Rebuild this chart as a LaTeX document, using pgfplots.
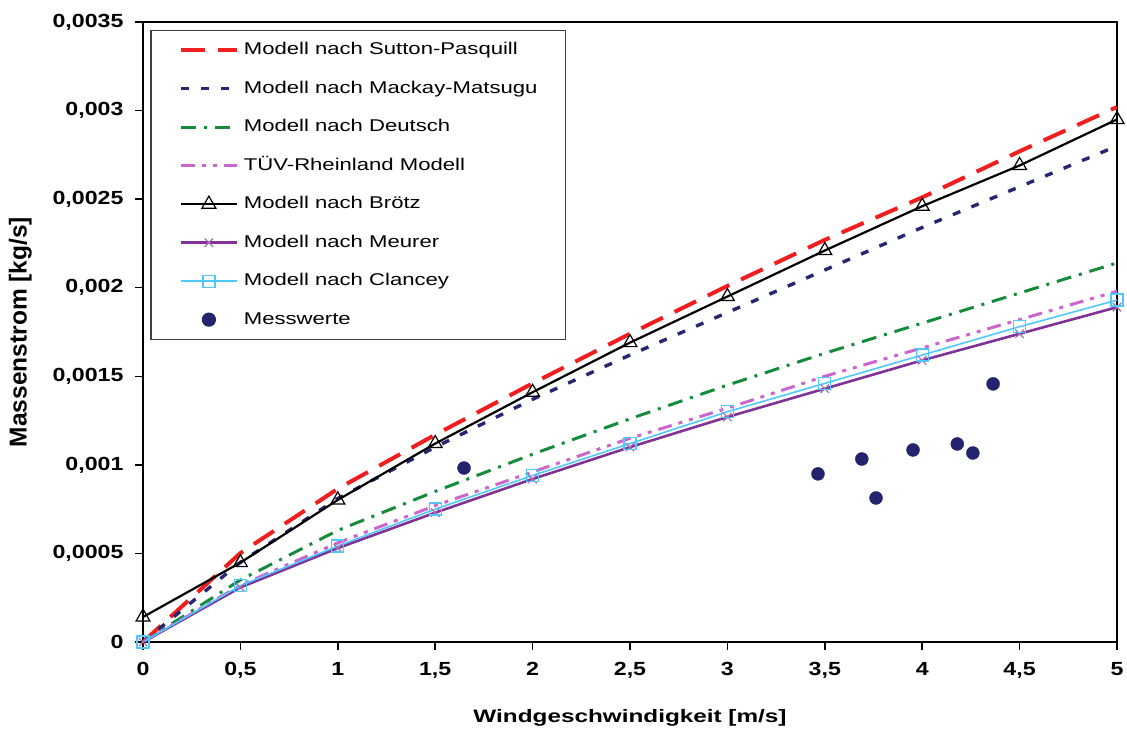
\documentclass[border=0pt]{standalone}
\usepackage{fontspec}
\setmainfont{Liberation Sans}
\usepackage{graphicx}
\usepackage{pgfplots}
\pgfplotsset{compat=1.18}
\definecolor{cRed}{RGB}{240,30,30}
\definecolor{cNavy}{RGB}{38,38,115}
\definecolor{cGreen}{RGB}{20,140,60}
\definecolor{cPink}{RGB}{204,102,204}
\definecolor{cPurple}{RGB}{128,50,150}
\definecolor{cCyan}{RGB}{80,200,255}
\definecolor{cDot}{RGB}{36,36,110}
\newcommand{\tl}[1]{\scalebox{1.22}[1]{\bfseries #1}}
\newcommand{\lt}[1]{\scalebox{1.3}[1]{#1}}
\begin{document}
\begin{tikzpicture}
\begin{axis}[
  at={(0,0)}, anchor=south west,
  scale only axis, width=974pt, height=620pt,
  xmin=0, xmax=5, ymin=0, ymax=0.0035,
  axis line style={line width=1.8pt},
  xtick pos=bottom, ytick pos=left,
  xtick={0,0.5,1,1.5,2,2.5,3,3.5,4,4.5,5},
  xticklabels={\tl{0},\tl{0,5},\tl{1},\tl{1,5},\tl{2},\tl{2,5},\tl{3},\tl{3,5},\tl{4},\tl{4,5},\tl{5}},
  ytick={0,0.0005,0.001,0.0015,0.002,0.0025,0.003,0.0035},
  yticklabels={\tl{0},\tl{0,0005},\tl{0,001},\tl{0,0015},\tl{0,002},\tl{0,0025},\tl{0,003},\tl{0,0035}},
  scaled y ticks=false,
  tick align=outside, major tick length=8pt,
  tick style={line width=1.5pt, black},
  ticklabel style={font=\fontsize{19}{22}\selectfont},
  xticklabel style={yshift=-9pt},
  yticklabel style={xshift=-8pt},
  xlabel={\scalebox{1.35}[1]{\bfseries Windgeschwindigkeit [m/s]}},
  ylabel={\bfseries Massenstrom [kg/s]},
  xlabel style={font=\fontsize{18}{21}\selectfont, at={(axis description cs:0.5,0)}, anchor=center, yshift=-76pt},
  ylabel style={font=\fontsize{24.5}{27}\selectfont, yshift=14pt},
  legend cell align=left,
  legend style={at={(0.0075,0.987)}, anchor=north west, draw=black!75, line width=1.2pt,
    font=\fontsize{17}{20}\selectfont, inner xsep=28pt, inner ysep=11pt,
    row sep=21.5pt, column sep=5pt,
    nodes={inner sep=0pt, text height=13pt, text depth=4pt}},
  legend image code/.code={\draw[mark repeat=2, mark phase=2] plot coordinates {(0pt,0pt) (28pt,0pt) (56pt,0pt)};},
]
\addplot[cRed, line width=4pt, dash pattern=on 24pt off 13pt] coordinates {
(0,0) (0.5,0.000502) (1,0.000865) (1.5,0.00117) (2,0.00146) (2.5,0.00174) (3,0.00201) (3.5,0.00227) (4,0.00251) (4.5,0.00277) (5,0.00302)};
\addlegendentry{\lt{Modell nach Sutton-Pasquill}}
\addplot[cNavy, line width=3.4pt, dash pattern=on 8pt off 12pt] coordinates {
(0,0) (0.5,0.00045) (1,0.00081) (1.5,0.00110) (2,0.00137) (2.5,0.00162) (3,0.00186) (3.5,0.00210) (4,0.00234) (4.5,0.00257) (5,0.00280)};
\addlegendentry{\lt{Modell nach Mackay-Matsugu}}
\addplot[cGreen, line width=3pt, dash pattern=on 15pt off 8pt on 3pt off 8pt] coordinates {
(0,0) (0.5,0.00035) (1,0.00063) (1.5,0.00085) (2,0.00106) (2.5,0.00126) (3,0.00145) (3.5,0.00163) (4,0.00180) (4.5,0.00197) (5,0.00214)};
\addlegendentry{\lt{Modell nach Deutsch}}
\addplot[cPink, line width=3pt, dash pattern=on 14pt off 7pt on 4pt off 7pt on 4pt off 7pt] coordinates {
(0,0) (0.5,0.00032) (1,0.00056) (1.5,0.00077) (2,0.00096) (2.5,0.00115) (3,0.00132) (3.5,0.00150) (4,0.00166) (4.5,0.00182) (5,0.00198)};
\addlegendentry{\lt{TÜV-Rheinland Modell}}
\addplot[black, line width=2.2pt, mark=triangle, mark size=8pt, mark options={solid, fill=white, line width=1.2pt}] coordinates {
(0,0.000141) (0.5,0.000448) (1,0.000802) (1.5,0.00112) (2,0.00141) (2.5,0.00169) (3,0.00195) (3.5,0.00221) (4,0.00246) (4.5,0.00269) (5,0.00295)};
\addlegendentry{\lt{Modell nach Brötz}}
\addplot[cPurple, line width=2.6pt, mark=x, mark size=6pt, mark options={solid, line width=1.2pt, draw=cPurple!70}] coordinates {
(0,0) (0.5,0.000308) (1,0.000530) (1.5,0.000730) (2,0.000920) (2.5,0.00110) (3,0.00127) (3.5,0.00143) (4,0.00159) (4.5,0.00174) (5,0.00189)};
\addlegendentry{\lt{Modell nach Meurer}}
\addplot[cCyan, line width=1.6pt, mark=square, mark size=6pt, mark options={solid, line width=1.3pt}] coordinates {
(0,0) (0.5,0.000318) (1,0.000542) (1.5,0.000750) (2,0.000940) (2.5,0.00112) (3,0.00130) (3.5,0.00146) (4,0.00162) (4.5,0.00178) (5,0.00193)};
\addlegendentry{\lt{Modell nach Clancey}}
\addplot[only marks, mark=*, mark size=6.5pt, cDot] coordinates {
(1.648,0.000982) (3.465,0.000949) (3.69,0.001033) (3.763,0.000813) (3.953,0.001084) (4.18,0.001118) (4.26,0.001067) (4.364,0.001457)};
\addlegendentry{\lt{Messwerte}}
\end{axis}
\pgfresetboundingbox
\path[use as bounding box] (-143pt,-93pt) rectangle (984pt,642pt);
\end{tikzpicture}
\end{document}
